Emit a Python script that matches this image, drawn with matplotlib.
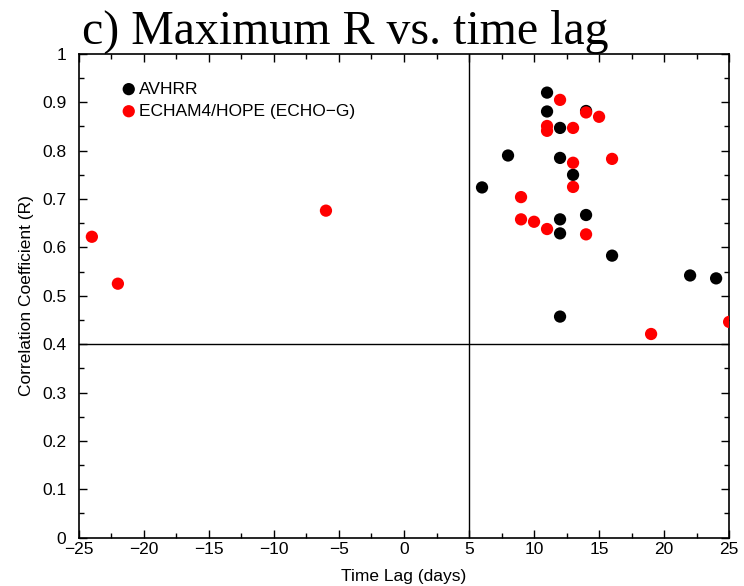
import numpy as np
import matplotlib.pyplot as plt
from matplotlib.ticker import MultipleLocator, FormatStrFormatter

# 数据：时间滞后 (天) 与最大相关系数
avhrr_lag = [11, 11, 12, 14, 8, 12, 13, 6, 12, 14, 12, 16, 12, 22, 24]
avhrr_r = [0.920, 0.881, 0.847, 0.882, 0.790, 0.785, 0.750, 0.724,
           0.658, 0.667, 0.629, 0.583, 0.457, 0.542, 0.536]

echo_lag = [12, 14, 15, 11, 11, 13, 13, 16, 13, 9, 9, 10, 11, 14,
            19, 25, -24, -22, -6]
echo_r = [0.905, 0.879, 0.870, 0.851, 0.841, 0.847, 0.775, 0.783, 0.725,
          0.704, 0.658, 0.653, 0.638, 0.627, 0.421, 0.446, 0.622, 0.525, 0.676]

sans = ['Liberation Sans Narrow', 'Liberation Sans', 'DejaVu Sans']
plt.rcParams['font.family'] = sans
plt.rcParams['axes.unicode_minus'] = True

fs = 12.5
fig = plt.figure(figsize=(7.44, 5.86), dpi=100)
ax = fig.add_axes([0.106, 0.0825, 0.874, 0.8255])

ax.axhline(0.4, color='black', lw=1.0, zorder=1)
ax.axvline(5, color='black', lw=1.0, zorder=1)

ax.scatter(avhrr_lag, avhrr_r, s=78, color='black', edgecolors='none',
           zorder=3, label='AVHRR')
ax.scatter(echo_lag, echo_r, s=78, color='#ff0000', edgecolors='none',
           zorder=4, label='ECHAM4/HOPE (ECHO\u2212G)')

ax.set_xlim(-25, 25)
ax.set_ylim(0, 1)
ax.xaxis.set_major_locator(MultipleLocator(5))
ax.xaxis.set_minor_locator(MultipleLocator(2.5))
ax.yaxis.set_major_locator(MultipleLocator(0.1))
ax.yaxis.set_minor_locator(MultipleLocator(0.05))
ax.yaxis.set_major_formatter(FormatStrFormatter('%g'))
ax.tick_params(which='both', direction='in', top=True, right=True,
               labelsize=fs, width=1.0)
ax.tick_params(which='major', length=6)
ax.tick_params(axis='x', which='major', pad=3)
ax.tick_params(axis='y', which='major', pad=9)
ax.tick_params(which='minor', length=3.5)
for sp in ax.spines.values():
    sp.set_linewidth(1.2)

ax.set_xlabel('Time Lag (days)', fontsize=fs, labelpad=9)
ax.set_ylabel('Correlation Coefficient (R)', fontsize=fs, labelpad=6)

leg = ax.legend(loc='upper left', bbox_to_anchor=(0.042, 0.968), frameon=False,
                fontsize=fs, handletextpad=0.0, borderaxespad=0.3,
                labelspacing=0.4, scatterpoints=1, handlelength=1.2)

fig.text(0.11, 0.925, 'c) Maximum R vs. time lag', fontsize=34.5,
         family=['Liberation Serif', 'DejaVu Serif'], ha='left', va='baseline')

fig.savefig('out.png', dpi=100)
